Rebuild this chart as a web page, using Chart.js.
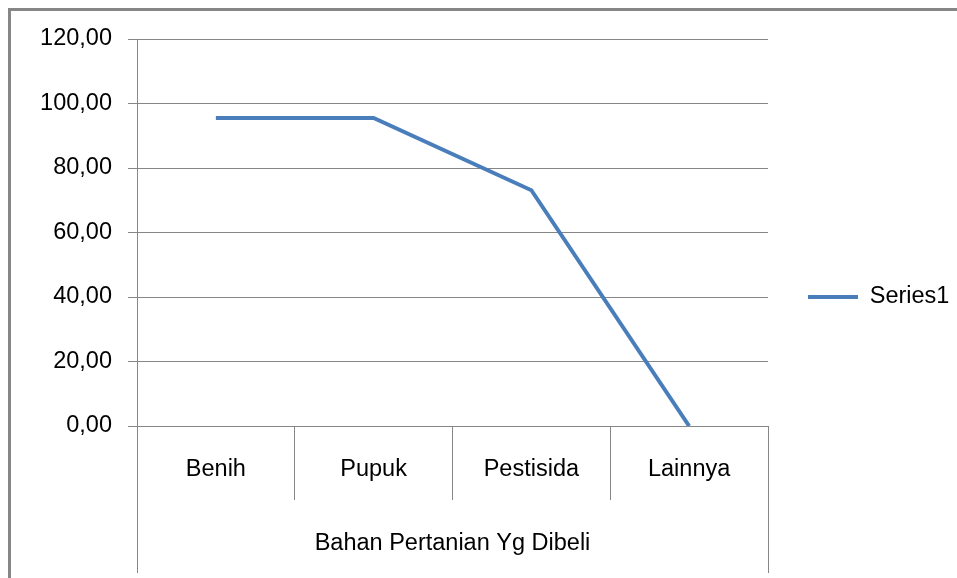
<!DOCTYPE html>
<html>
<head>
<meta charset="utf-8">
<title>Bahan Pertanian Yg Dibeli</title>
<script src="https://cdn.jsdelivr.net/npm/chart.js@4.4.1/dist/chart.umd.min.js"></script>
<style>
    html, body { margin: 0; padding: 0; background: #fff; }
    #wrap { width: 957px; height: 578px; }
</style>
</head>
<body>
<div id="wrap"><canvas id="bahanChart" width="957" height="578"></canvas></div>
<script>
/* ===== DATA ===== */
const categories = ['Benih', 'Pupuk', 'Pestisida', 'Lainnya'];
const series1 = [95.5, 95.5, 73.1, 0];
const yTicks = [0, 20, 40, 60, 80, 100, 120];
const seriesName = 'Series1';
const xAxisTitle = 'Bahan Pertanian Yg Dibeli';

/* ===== STYLE ===== */
const gridColor = '#868686';
const lineColor = '#4a7ebb';
const textColor = '#000000';
const baseFont = { family: '"Liberation Sans", Arial, sans-serif', size: 23.5 };

/* ===== EXCEL FRAME (outer border + multi-level axis edges) ===== */
const excelFrame = {
    id: 'excelFrame',
    beforeDraw(chart) {
        const ctx = chart.ctx;
        ctx.save();
        ctx.fillStyle = '#ffffff';
        ctx.fillRect(0, 0, chart.width, chart.height);
        ctx.strokeStyle = gridColor;
        ctx.lineWidth = 3;
        ctx.strokeRect(9.5, 9.5, chart.width + 50, chart.height + 50);
        ctx.restore();
    },
    afterDraw(chart) {
        const ctx = chart.ctx;
        const area = chart.chartArea;
        const xScale = chart.scales.x;
        const bottom = xScale.bottom + 18;
        ctx.save();
        ctx.strokeStyle = gridColor;
        ctx.lineWidth = 1;
        [area.left, area.right].forEach(px => {
            const x = Math.round(px) + 0.5;
            ctx.beginPath();
            ctx.moveTo(x, area.bottom);
            ctx.lineTo(x, bottom);
            ctx.stroke();
        });
        ctx.restore();
    }
};

/* ===== INITIALIZE CHART ===== */
const ctx = document.getElementById('bahanChart').getContext('2d');
new Chart(ctx, {
    type: 'line',
    data: {
        labels: categories,
        datasets: [{
            label: seriesName,
            data: series1,
            borderColor: lineColor,
            backgroundColor: lineColor,
            borderWidth: 4,
            borderCapStyle: 'butt',
            pointRadius: 0,
            pointHoverRadius: 0,
            tension: 0,
            fill: false
        }]
    },
    options: {
        responsive: false,
        animation: false,
        events: [],
        layout: { padding: { left: 0, top: 39, right: 0, bottom: 23 } },
        plugins: {
            tooltip: { enabled: false },
            legend: {
                position: 'right',
                maxWidth: 189,
                labels: {
                    usePointStyle: true,
                    pointStyle: 'line',
                    pointStyleWidth: 50,
                    padding: 40,
                    color: textColor,
                    font: baseFont
                }
            }
        },
        scales: {
            x: {
                offset: true,
                grid: {
                    offset: true,
                    drawOnChartArea: false,
                    drawTicks: true,
                    tickLength: 74,
                    color: gridColor,
                    lineWidth: 1
                },
                border: { display: true, color: gridColor, width: 1 },
                ticks: {
                    color: textColor,
                    font: baseFont,
                    padding: -45,
                    maxRotation: 0,
                    autoSkip: false
                },
                title: {
                    display: true,
                    text: xAxisTitle,
                    color: textColor,
                    font: baseFont,
                    padding: { top: 0, bottom: -3 }
                },
                afterFit: scale => { scale.height = 129; }
            },
            y: {
                min: 0,
                max: 120,
                grid: {
                    color: gridColor,
                    lineWidth: 1,
                    drawTicks: true,
                    tickLength: 9
                },
                border: { display: true, color: gridColor, width: 1 },
                ticks: {
                    color: textColor,
                    font: baseFont,
                    padding: 16,
                    callback: value => value.toFixed(2).replace('.', ',')
                },
                afterBuildTicks: scale => {
                    scale.ticks = yTicks.map(v => ({ value: v }));
                },
                afterFit: scale => { scale.width = 137; }
            }
        }
    },
    plugins: [excelFrame]
});
</script>
</body>
</html>
